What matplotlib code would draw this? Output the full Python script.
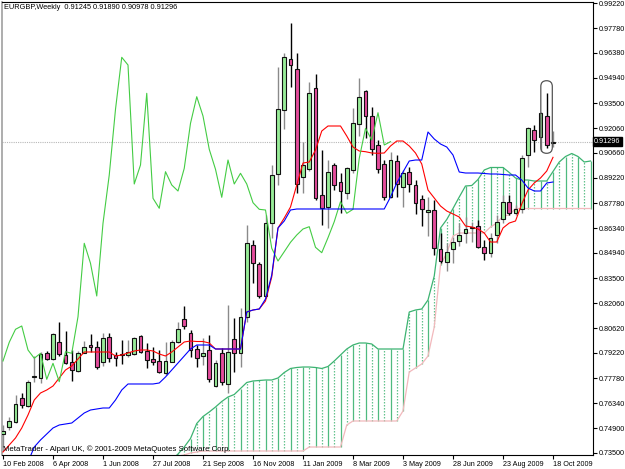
import matplotlib
matplotlib.use('Agg')
import matplotlib.pyplot as plt
import matplotlib.transforms as mtrans
from matplotlib.patches import Rectangle, FancyBboxPatch
import pandas as pd

plt.rcParams['font.family'] = ['Liberation Sans', 'DejaVu Sans']

# ---------------- data (EURGBP weekly) ----------------
dates = pd.date_range('2008-02-10', periods=89, freq='7D')

opens = [0.74585, 0.74968, 0.75288, 0.76625, 0.76185, 0.77843, 0.77768, 0.79232, 0.78872, 0.79860,
         0.79100, 0.78683, 0.78186, 0.79232, 0.79672, 0.79575, 0.78700, 0.80146, 0.79100, 0.79157,
         0.79100, 0.79140, 0.80186, 0.79346, 0.78854, 0.78774, 0.78054, 0.78717, 0.79860, 0.81141,
         0.80375, 0.79443, 0.79043, 0.79386, 0.77328, 0.79232, 0.77443, 0.79998, 0.79232, 0.81289,
         0.85388, 0.84302, 0.82473, 0.86628, 0.89446, 0.93104, 0.96002, 0.95431, 0.89292, 0.89715,
         0.94345, 0.88246, 0.87543, 0.89961, 0.89006, 0.88343, 0.89675, 0.92304, 0.94190, 0.92778,
         0.91087, 0.90001, 0.88149, 0.90206, 0.88720, 0.89578, 0.88817, 0.88000, 0.87274, 0.87388,
         0.85142, 0.84433, 0.85142, 0.85634, 0.86091, 0.86377, 0.86474, 0.85291, 0.84948, 0.85959,
         0.86857, 0.87863, 0.87200, 0.87428, 0.90532, 0.91961, 0.91578, 0.92761, 0.91245]
highs = [0.75099, 0.75573, 0.76814, 0.76911, 0.77671, 0.79043, 0.79289, 0.79346, 0.80375, 0.80969,
         0.80472, 0.79386, 0.79346, 0.79900, 0.80283, 0.79900, 0.80358, 0.80358, 0.79289, 0.79958,
         0.79958, 0.80146, 0.80243, 0.79769, 0.79575, 0.79386, 0.79860, 0.79958, 0.81004, 0.81901,
         0.80529, 0.79672, 0.80055, 0.80243, 0.78814, 0.79483, 0.81958, 0.81198, 0.81770, 0.86531,
         0.85674, 0.84416, 0.87103, 0.89961, 0.95579, 0.96345, 0.98060, 0.96345, 0.91292, 0.94722,
         0.95162, 0.90818, 0.90246, 0.90058, 0.89486, 0.89829, 0.93202, 0.94916, 0.94247, 0.93293,
         0.91390, 0.90246, 0.90721, 0.90532, 0.89675, 0.89863, 0.89103, 0.88246, 0.88149, 0.87960,
         0.86057, 0.85519, 0.85862, 0.86628, 0.87005, 0.86720, 0.86817, 0.85674, 0.86057, 0.87103,
         0.88246, 0.88246, 0.87674, 0.90532, 0.92150, 0.92247, 0.93007, 0.94076, 0.91890]
lows = [0.73859, 0.74813, 0.75196, 0.76054, 0.76111, 0.77574, 0.77483, 0.78814, 0.78814, 0.79060,
        0.78614, 0.77614, 0.78146, 0.79197, 0.79289, 0.78283, 0.78471, 0.78717, 0.78471, 0.78586,
        0.79003, 0.79100, 0.79197, 0.78340, 0.78529, 0.78054, 0.77957, 0.78700, 0.79769, 0.80569,
        0.79003, 0.78431, 0.78529, 0.77574, 0.77288, 0.77385, 0.76911, 0.78146, 0.78431, 0.81004,
        0.83199, 0.82341, 0.82341, 0.85771, 0.88817, 0.92007, 0.94436, 0.88343, 0.88343, 0.89646,
        0.87960, 0.86531, 0.86342, 0.88532, 0.87200, 0.88000, 0.89486, 0.91618, 0.91487, 0.90532,
        0.89486, 0.87960, 0.88057, 0.88149, 0.87577, 0.88434, 0.87160, 0.86474, 0.85902, 0.84816,
        0.84376, 0.83919, 0.84342, 0.85331, 0.85485, 0.85576, 0.85199, 0.84530, 0.84719, 0.85485,
        0.86662, 0.87103, 0.87103, 0.87200, 0.89863, 0.90721, 0.90778, 0.90915, 0.90978]
closes = [0.74773, 0.75345, 0.76282, 0.76242, 0.77574, 0.77900, 0.79157, 0.78889, 0.80301, 0.79157,
          0.78660, 0.78243, 0.79232, 0.79540, 0.79575, 0.78431, 0.80055, 0.78912, 0.78912, 0.79083,
          0.79289, 0.80089, 0.79255, 0.78814, 0.78717, 0.78111, 0.78757, 0.79826, 0.80569, 0.80758,
          0.79386, 0.78912, 0.79197, 0.77711, 0.78626, 0.77574, 0.79289, 0.79197, 0.81289, 0.85485,
          0.84342, 0.82473, 0.86628, 0.89389, 0.93144, 0.96117, 0.95677, 0.88875, 0.89961, 0.94059,
          0.88057, 0.87486, 0.89578, 0.88817, 0.88474, 0.89772, 0.92344, 0.93865, 0.92761, 0.90858,
          0.89715, 0.88114, 0.90246, 0.88875, 0.89486, 0.88875, 0.87806, 0.87428, 0.87388, 0.85199,
          0.84473, 0.85005, 0.85542, 0.85959, 0.86302, 0.86434, 0.85256, 0.84948, 0.85805, 0.86720,
          0.87863, 0.87200, 0.87428, 0.90344, 0.92058, 0.91390, 0.92950, 0.91104, 0.91296]

# Ichimoku lines
tenkan = [0.73556, 0.73956, 0.74356, 0.74928, 0.75671, 0.76528, 0.76928, 0.77100, 0.77328, 0.77786,
          0.78243, 0.78471, 0.78872, 0.79272, 0.79272, 0.79272, 0.79272, 0.79272, 0.79043, 0.79100,
          0.79215, 0.79329, 0.79386, 0.79386, 0.79329, 0.79157, 0.79043, 0.79272, 0.79557, 0.79843,
          0.79900, 0.79872, 0.79872, 0.79786, 0.79443, 0.79443, 0.79443, 0.79443, 0.79443, 0.81558,
          0.81672, 0.81730, 0.82187, 0.83559, 0.86360, 0.86931, 0.87560, 0.88817, 0.90075, 0.90132,
          0.90818, 0.91904, 0.92190, 0.92190, 0.92190, 0.91618, 0.90989, 0.90761, 0.90721, 0.90647,
          0.90629, 0.90647, 0.91047, 0.91332, 0.91332, 0.91047, 0.90647, 0.90018, 0.88532, 0.88074,
          0.87617, 0.87331, 0.87160, 0.86988, 0.86474, 0.86417, 0.86302, 0.86074, 0.85559, 0.85559,
          0.86360, 0.86645, 0.86760, 0.87731, 0.88532, 0.88932, 0.89218, 0.89618, 0.90400]
kijun = [0.71384, 0.71669, 0.72071, 0.72527, 0.72984, 0.73841, 0.74242, 0.74585, 0.74928, 0.75099,
         0.75156, 0.75213, 0.75499, 0.75785, 0.75956, 0.76014, 0.76071, 0.76071, 0.76528, 0.77100,
         0.77443, 0.77443, 0.77443, 0.77443, 0.77443, 0.77500, 0.77843, 0.78243, 0.78643, 0.79043,
         0.79443, 0.79672, 0.79672, 0.79672, 0.79443, 0.79443, 0.79443, 0.79443, 0.79443, 0.81558,
         0.81672, 0.81730, 0.82301, 0.83673, 0.86360, 0.86760, 0.87388, 0.87446, 0.87446, 0.87446,
         0.87446, 0.87446, 0.87446, 0.87446, 0.87446, 0.87446, 0.87446, 0.87446, 0.87446, 0.87446,
         0.87446, 0.87446, 0.88131, 0.88932, 0.89560, 0.90189, 0.90246, 0.90246, 0.91847, 0.91447,
         0.91161, 0.90989, 0.90532, 0.89560, 0.89503, 0.89503, 0.89503, 0.89475, 0.89446, 0.89446,
         0.89418, 0.89389, 0.89389, 0.89103, 0.88646, 0.88474, 0.88474, 0.88932, 0.88989]
# Senkou spans, plotted from bar 26 to bar 94 (shifted 26 bars ahead)
span_a = [0.72755, 0.73098, 0.73441, 0.73841, 0.74327, 0.75185, 0.75585, 0.75842, 0.76128, 0.76442,
          0.76699, 0.76842, 0.77185, 0.77528, 0.77614, 0.77643, 0.77671, 0.77671, 0.77786, 0.78100,
          0.78329, 0.78386, 0.78414, 0.78414, 0.78386, 0.78329, 0.78443, 0.78757, 0.79100, 0.79443,
          0.79672, 0.79786, 0.79786, 0.79729, 0.79443, 0.79443, 0.79443, 0.79443, 0.79443, 0.81558,
          0.81672, 0.81730, 0.82244, 0.83616, 0.86360, 0.86845, 0.87474, 0.88131, 0.88760, 0.88789,
          0.89132, 0.89675, 0.89818, 0.89818, 0.89818, 0.89532, 0.89218, 0.89103, 0.89103, 0.89046,
          0.89046, 0.89046, 0.89589, 0.90132, 0.90446, 0.90618, 0.90446, 0.90132, 0.90189]
span_b = [0.72755, 0.73098, 0.73327, 0.73384, 0.73499, 0.73556, 0.73613, 0.73613, 0.73613, 0.73613,
          0.73613, 0.73613, 0.73613, 0.73613, 0.73613, 0.73613, 0.73613, 0.73613, 0.73613, 0.73613,
          0.73613, 0.73613, 0.73613, 0.73841, 0.73841, 0.73841, 0.73841, 0.73841, 0.73841, 0.75099,
          0.75328, 0.75328, 0.75328, 0.75328, 0.75328, 0.75328, 0.75328, 0.75328, 0.75900, 0.78128,
          0.78357, 0.78586, 0.79043, 0.80700, 0.84244, 0.84930, 0.85902, 0.86074, 0.86074, 0.86074,
          0.86074, 0.86074, 0.86417, 0.86645, 0.87045, 0.87103, 0.87474, 0.87474, 0.87474, 0.87474,
          0.87474, 0.87474, 0.87474, 0.87474, 0.87474, 0.87474, 0.87474, 0.87474, 0.87474]
SHIFT = 26
yticks = [0.99220, 0.97780, 0.96380, 0.94940, 0.93500, 0.92060, 0.90660, 0.89220, 0.87780, 0.86340,
          0.84940, 0.83500, 0.82060, 0.80620, 0.79220, 0.77780, 0.76340, 0.74900, 0.73500]
xtick_idx = list(range(0, 89, 8))
title = "EURGBP,Weekly  0.91245 0.91890 0.90978 0.91296"
footer = "MetaTrader - Alpari UK, \u00a9 2001-2009 MetaQuotes Software Corp."

# ---------------- figure ----------------
W, H = 625, 469
fig = plt.figure(figsize=(W / 100, H / 100), dpi=100)
fig.patch.set_facecolor('white')
ax = fig.add_axes([2 / W, 14 / H, 591 / W, 453 / H])
ax.set_xlim(-0.16, 94.4)
ax.set_ylim(0.73384, 0.99278)

FS_Y = 5.2
FS_X = 5.2
BULL = '#98EC98'
BEAR = '#E44C9C'
A_COL = '#3CB371'
B_COL = '#F2B8BC'

# Kumo (cloud) hatch and borders
xs_span = list(range(SHIFT, SHIFT + len(span_a)))
for k, x in enumerate(xs_span):
    a, b = span_a[k], span_b[k]
    col = A_COL if a >= b else B_COL
    ax.vlines(x, min(a, b), max(a, b), colors=col, linewidth=0.9,
              linestyles=(0, (1.2, 1.2)) if k % 2 else '-', alpha=0.9 if k % 2 == 0 else 0.8, zorder=1)
ax.plot(xs_span, span_b, color=B_COL, lw=0.9, zorder=2)
ax.plot(xs_span, span_a, color=A_COL, lw=0.9, zorder=2)

# close line
ax.axhline(closes[-1], color='#B8B8B8', lw=0.8, ls=(0, (1, 1)), zorder=1)

# candles
for i in range(len(opens)):
    o, h, l, c = opens[i], highs[i], lows[i], closes[i]
    up = c >= o
    ax.vlines(i, l, h, colors='#8A8A8A' if up else '#000000', lw=1.0, zorder=3)
    bottom, top = min(o, c), max(o, c)
    hgt = max(top - bottom, 0.0004)
    ax.add_patch(Rectangle((i - 0.3, bottom), 0.6, hgt, facecolor=BULL if up else BEAR,
                           edgecolor='#111111', lw=0.8, zorder=4))

# tenkan / kijun / chikou
idx = list(range(len(opens)))
ax.plot(idx, tenkan, color='#FF0000', lw=0.8, zorder=5)
ax.plot(idx, kijun, color='#0000FF', lw=0.8, zorder=6)
ax.plot([i - SHIFT for i in idx[SHIFT:]], closes[SHIFT:], color='#44CC44', lw=0.8, zorder=5)

# ellipse-like marker around last candles
asp = (0.99278 - 0.73384) / 453 / ((94.4 + 0.16) / 591)
cap = FancyBboxPatch((86.05, 0.90629), 1.84, 0.0415,
                     boxstyle='round,pad=0,rounding_size=0.92', mutation_aspect=asp,
                     facecolor='none', edgecolor='#555555', lw=0.9, zorder=7)
ax.add_patch(cap)

# axes styling
for s in ['top', 'right', 'bottom']:
    ax.spines[s].set_color('#000000')
    ax.spines[s].set_linewidth(0.8)
ax.spines['left'].set_color('#A0A0A0')
ax.spines['left'].set_linewidth(1.2)

ax.yaxis.tick_right()
ax.set_yticks(yticks)
ax.set_yticklabels([f'{v:.5f}' for v in yticks])
ax.tick_params(axis='y', direction='out', length=3, width=0.8, labelsize=FS_Y, pad=1.2, colors='#000000')
ax.set_xticks(xtick_idx)
ax.set_xticklabels([f'{dates[i].day} {dates[i].strftime("%b %Y")}' for i in xtick_idx])
ax.tick_params(axis='x', direction='out', length=3, width=0.8, labelsize=FS_X, pad=1.5)
for lab in ax.get_xticklabels():
    lab.set_horizontalalignment('left')

# current price box
trans = mtrans.blended_transform_factory(ax.transAxes, ax.transData)
ax.text(1.002, closes[-1], f'{closes[-1]:.5f}', transform=trans, va='center', ha='left',
        fontsize=FS_Y, color='white', zorder=10, clip_on=False,
        bbox=dict(boxstyle='square,pad=0.15', facecolor='black', edgecolor='black'))

ax.text(0.004, 0.995, title, transform=ax.transAxes, va='top', ha='left', fontsize=5.3, zorder=10)
ax.text(0.002, 0.005, footer, transform=ax.transAxes, va='bottom', ha='left', fontsize=5.6, zorder=10)

fig.savefig('out.png', dpi=100, facecolor='white')
